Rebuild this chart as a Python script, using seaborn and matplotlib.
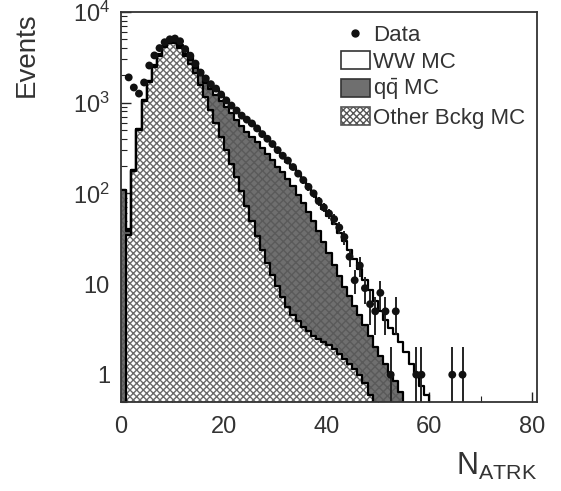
import numpy as np
import pandas as pd
import matplotlib
matplotlib.use("Agg")
import matplotlib.pyplot as plt
import seaborn as sns
from matplotlib.patches import Patch
from matplotlib.lines import Line2D
from matplotlib.ticker import FixedLocator, MultipleLocator, LogLocator, NullFormatter

sns.set_theme(style="ticks")
plt.rcParams["font.family"] = ["Liberation Sans", "DejaVu Sans"]
plt.rcParams["mathtext.fontset"] = "custom"
plt.rcParams["mathtext.rm"] = "Liberation Sans"
plt.rcParams["mathtext.it"] = "Liberation Sans:italic"

# ---- data ----
other_vals = [0, 35, 175, 500, 1050, 1700, 2500, 3300, 4100, 4600,
              4600, 4000, 3300, 2700, 2100, 1550, 1150, 830, 600, 420,
              300, 210, 150, 105, 72, 50, 34, 24, 17, 12.5,
              9.5, 7.2, 5.6, 4.5, 3.9, 3.4, 3.0, 2.7, 2.5, 2.3,
              2.1, 1.9, 1.7, 1.5, 1.3, 1.15, 1.0, 0.8, 0.6]
qq_vals = [110, 3, 5, 10, 20, 35, 45, 60, 70, 80,
           90, 100, 180, 230, 300, 450, 500, 570, 600, 630,
           600, 550, 490, 445, 408, 370, 336, 296, 253, 218,
           186, 163, 140, 115, 92, 75, 60, 47, 36, 27,
           20, 14.5, 10.5, 7.8, 6, 4.6, 3.5, 2.7, 2.05, 2.0,
           1.6, 1.3, 1.05, 0.85, 0.65]
ww_vals = [0, 2, 3, 5, 10, 20, 30, 40, 60, 90,
           130, 250, 350, 380, 350, 250, 250, 220, 220, 180,
           170, 180, 190, 180, 170, 160, 140, 130, 125, 115,
           105, 90, 78, 72, 67, 60, 54, 48, 43, 38,
           34, 29, 24.5, 20.5, 16.7, 13.3, 10.1, 7.6, 5.9, 4.5,
           3.4, 2.7, 2.25, 1.95, 1.65, 1.8, 1.3, 1.0, 0.75, 0.6]
data_n = list(range(1, 54)) + [57, 58, 64, 66]
data_counts = [1900, 1470, 1260, 1670, 2570, 3320, 4000, 4640, 5000, 5100,
               4760, 3900, 3300, 2700, 2150, 1850, 1600, 1430, 1230, 1060,
               930, 820, 720, 650, 590, 520, 450, 400, 350, 300,
               260, 230, 195, 165, 140, 118, 100, 82, 70, 60,
               52, 42, 33, 20, 11, 16, 9, 6, 5, 8,
               5, 1, 5, 1, 1, 1, 1]
x_ticks = [0, 20, 40, 60, 80]
y_ticks = [1, 10, 100, 1000, 10000]
y_tick_labels = ["1", "10", r"$\mathregular{10^{2}}$", r"$\mathregular{10^{3}}$", r"$\mathregular{10^{4}}$"]

# ---- build stacked histograms ----
nb = 61
edges = list(range(0, nb + 1))
def pad(v):
    a = np.zeros(nb)
    a[:len(v)] = v
    return a
other = pad(other_vals)
qq = pad(qq_vals)
ww = pad(ww_vals)
centers = np.arange(nb) + 0.5
df = pd.DataFrame({"N": centers, "other": other, "lower2": other + qq,
                   "total": other + qq + ww})

W, H = 561, 491
fig = plt.figure(figsize=(W / 100, H / 100), dpi=100)
ax = fig.add_axes([121 / W, 1 - 402 / H, (537 - 121) / W, (402 - 12) / H])
ax.set_yscale("log")

lw = 1.6
# WW (open) on top of stack
sns.histplot(data=df, x="N", weights="total", bins=edges, element="step",
             fill=True, color="white", edgecolor="black", linewidth=lw,
             alpha=1, ax=ax)
# qqbar (dark)
sns.histplot(data=df, x="N", weights="lower2", bins=edges, element="step",
             fill=True, color="#6f6f6f", edgecolor="#5a5a5a", linewidth=0,
             alpha=1, ax=ax)
ax.collections[-1].set_hatch("xxxx")
sns.histplot(data=df, x="N", weights="lower2", bins=edges, element="step",
             fill=False, color="black", linewidth=lw, ax=ax)
# Other background (cross-hatched)
sns.histplot(data=df, x="N", weights="other", bins=edges, element="step",
             fill=True, color="white", edgecolor="#6a6a6a", linewidth=0,
             alpha=1, ax=ax)
ax.collections[-1].set_hatch("xxxxx")
sns.histplot(data=df, x="N", weights="other", bins=edges, element="step",
             fill=False, color="black", linewidth=lw, ax=ax)

# data points
dn = np.array(data_n) + 0.5
dc = np.array(data_counts, dtype=float)
err = np.sqrt(dc)
lo = np.minimum(err, dc - 1e-3)
ax.errorbar(dn, dc, yerr=[lo, err], fmt="none", ecolor="#222222",
            elinewidth=1.4, capsize=0)
sns.scatterplot(x=dn, y=dc, color="#111111", s=32, edgecolor="none",
                marker="o", ax=ax, zorder=5)

ax.set_xlim(0, 81)
ax.set_ylim(0.5, 1.0e4)
ax.xaxis.set_major_locator(FixedLocator(x_ticks))
ax.xaxis.set_minor_locator(MultipleLocator(10))
ax.yaxis.set_major_locator(FixedLocator(y_ticks))
ax.set_yticklabels(y_tick_labels)
ax.yaxis.set_minor_locator(LogLocator(base=10, subs=np.arange(2, 10)))
ax.yaxis.set_minor_formatter(NullFormatter())
ax.tick_params(axis="both", which="both", direction="in", top=False,
               right=False, colors="#222222", labelcolor="#333333")
ax.tick_params(axis="both", which="major", length=7, width=1.0,
               labelsize=17)
ax.tick_params(axis="both", which="minor", length=4, width=0.8)
ax.tick_params(axis="x", pad=10)
ax.tick_params(axis="y", pad=8)
for s in ax.spines.values():
    s.set_linewidth(1.3)
    s.set_color("#333333")

ax.set_ylabel("Events", fontsize=20, color="#333333", loc="top")
ax.yaxis.set_label_coords(-0.195, 1.0)
ax.set_xlabel(r"$\mathregular{N_{ATRK}}$", fontsize=22, color="#333333",
              loc="right")
ax.xaxis.set_label_coords(1.0, -0.125)

handles = [
    Line2D([], [], marker="o", color="#111111", linestyle="none",
           markersize=5),
    Patch(facecolor="white", edgecolor="#333333", linewidth=1.2),
    Patch(facecolor="#6f6f6f", edgecolor="#333333", linewidth=1.2),
    Patch(facecolor="white", edgecolor="#555555", hatch="xxxxx",
          linewidth=1.2),
]
labels = ["Data", "WW MC", r"$\mathregular{q\bar{q}}$ MC", "Other Bckg MC"]
leg = ax.legend(handles, labels, loc="upper right",
                bbox_to_anchor=(1.004, 1.002), frameon=False, fontsize=16,
                handlelength=1.3, handleheight=0.9, handletextpad=0.15,
                labelspacing=0.2, borderaxespad=0.2)
for t in leg.get_texts():
    t.set_color("#333333")

fig.savefig("out.png", dpi=100)
